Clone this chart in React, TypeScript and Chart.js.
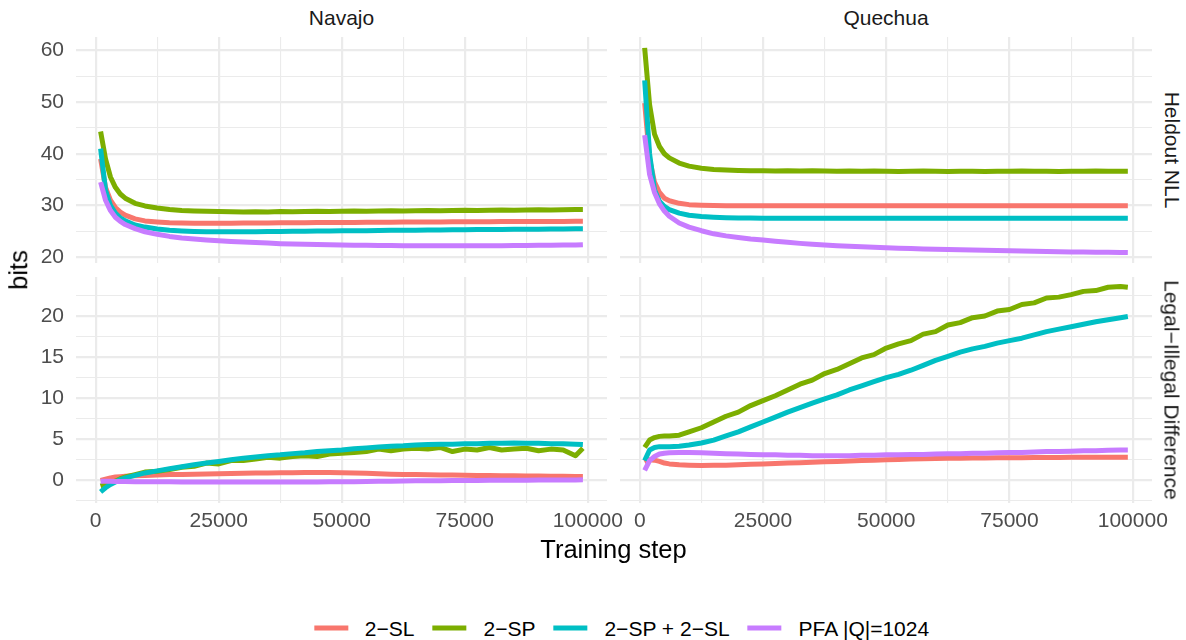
import React, { useEffect, useRef } from "react";
import { Chart, registerables } from "chart.js";

Chart.register(...registerables);

// ---------------- data ----------------
const STEPS = [
  1000, 2000, 3000, 4000, 5000, 6000, 8000, 10000,
  12500, 15000, 17500, 20000, 22500, 25000, 27500, 30000, 32500, 35000,
  37500, 40000, 42500, 45000, 47500, 50000, 52500, 55000, 57500, 60000,
  62500, 65000, 67500, 70000, 72500, 75000, 77500, 80000, 82500, 85000,
  87500, 90000, 92500, 95000, 97500, 99000,
];

const SERIES_NAMES = ["2\u2212SL", "2\u2212SP", "2\u2212SP + 2\u2212SL", "PFA |Q|=1024"];
const COLORS = ["#F8766D", "#7CAE00", "#00BFC4", "#C77CFF"];

const LANGUAGES = ["Navajo", "Quechua"];
const METRICS = ["Heldout NLL", "Legal\u2212Illegal Difference"];

const X_MAJOR = [0, 25000, 50000, 75000, 100000];
const X_MINOR = [12500, 37500, 62500, 87500];
const NLL_Y_MAJOR = [20, 30, 40, 50, 60];
const NLL_Y_MINOR = [25, 35, 45, 55];
const DIFF_Y_MAJOR = [0, 5, 10, 15, 20];
const DIFF_Y_MINOR = [-2.5, 2.5, 7.5, 12.5, 17.5, 22.5];

// Navajo – Heldout NLL
const NAV_NLL_SL = [
  39.0, 33.5, 31.0, 29.6, 28.7, 28.1, 27.4, 27.0,
  26.8, 26.65, 26.6, 26.55, 26.55, 26.55, 26.55, 26.6, 26.6, 26.6,
  26.65, 26.65, 26.65, 26.7, 26.7, 26.7, 26.7, 26.75, 26.75, 26.75,
  26.8, 26.8, 26.8, 26.8, 26.85, 26.85, 26.85, 26.85, 26.9, 26.9,
  26.9, 26.9, 26.9, 26.9, 26.95, 26.95,
];
const NAV_NLL_SP = [
  44.3, 39.0, 35.5, 33.5, 32.2, 31.4, 30.4, 29.9,
  29.5, 29.2, 29.0, 28.9, 28.85, 28.8, 28.75, 28.7, 28.75, 28.7,
  28.8, 28.75, 28.8, 28.85, 28.8, 28.85, 28.9, 28.85, 28.9, 28.95,
  28.9, 28.95, 29.0, 28.95, 29.0, 29.05, 29.0, 29.05, 29.1, 29.05,
  29.1, 29.15, 29.1, 29.15, 29.2, 29.2,
];
const NAV_NLL_SPSL = [
  41.0, 33.0, 30.0, 28.5, 27.6, 27.0, 26.2, 25.8,
  25.45, 25.2, 25.05, 24.95, 24.9, 24.9, 24.9, 24.9, 24.9, 24.95,
  24.95, 25.0, 25.0, 25.05, 25.05, 25.1, 25.1, 25.1, 25.15, 25.2,
  25.2, 25.2, 25.25, 25.25, 25.3, 25.3, 25.35, 25.35, 25.35, 25.4,
  25.4, 25.4, 25.45, 25.45, 25.5, 25.5,
];
const NAV_NLL_PFA = [
  34.5, 31.0, 29.0, 27.7, 26.9, 26.3, 25.5, 24.9,
  24.4, 24.0, 23.7, 23.5, 23.3, 23.15, 23.0, 22.9, 22.8, 22.7,
  22.6, 22.55, 22.5, 22.45, 22.4, 22.35, 22.3, 22.3, 22.25, 22.25,
  22.2, 22.2, 22.2, 22.2, 22.2, 22.2, 22.2, 22.2, 22.2, 22.25,
  22.25, 22.3, 22.3, 22.35, 22.35, 22.4,
];

// Quechua – Heldout NLL
const QUE_NLL_SL = [
  49.8, 39.0, 34.5, 32.5, 31.4, 30.9, 30.4, 30.15,
  30.05, 30.0, 29.95, 29.95, 29.95, 29.95, 29.95, 29.95, 29.95, 29.95,
  29.95, 29.95, 29.95, 29.95, 29.95, 29.95, 29.95, 29.95, 29.95, 29.95,
  29.95, 29.95, 29.95, 29.95, 29.95, 29.95, 29.95, 29.95, 29.95, 29.95,
  29.95, 29.95, 29.95, 29.95, 29.95, 29.95,
];
const QUE_NLL_SP = [
  60.5, 49.5, 43.8, 41.4, 40.0, 39.2, 38.2, 37.6,
  37.2, 36.95, 36.85, 36.75, 36.7, 36.7, 36.65, 36.7, 36.65, 36.7,
  36.65, 36.6, 36.65, 36.6, 36.65, 36.6, 36.55, 36.6, 36.65, 36.6,
  36.55, 36.6, 36.6, 36.55, 36.6, 36.6, 36.65, 36.6, 36.6, 36.55,
  36.6, 36.6, 36.65, 36.6, 36.6, 36.6,
];
const QUE_NLL_SPSL = [
  54.2, 40.0, 33.0, 30.8, 29.8, 29.2, 28.5, 28.1,
  27.85, 27.7, 27.6, 27.55, 27.55, 27.5, 27.5, 27.5, 27.5, 27.5,
  27.5, 27.5, 27.5, 27.5, 27.5, 27.5, 27.5, 27.5, 27.5, 27.5,
  27.5, 27.5, 27.5, 27.5, 27.5, 27.5, 27.5, 27.5, 27.5, 27.5,
  27.5, 27.5, 27.5, 27.5, 27.5, 27.5,
];
const QUE_NLL_PFA = [
  43.6, 36.0, 32.5, 30.3, 28.9, 27.9, 26.6, 25.8,
  25.1, 24.5, 24.1, 23.8, 23.5, 23.3, 23.05, 22.85, 22.65, 22.5,
  22.35, 22.2, 22.1, 22.0, 21.9, 21.8, 21.72, 21.65, 21.58, 21.5,
  21.45, 21.4, 21.35, 21.3, 21.25, 21.2, 21.16, 21.12, 21.08, 21.04,
  21.0, 20.97, 20.94, 20.91, 20.88, 20.86,
];

// Navajo – Legal–Illegal Difference
const NAV_DIFF_SL = [
  0.0, 0.15, 0.3, 0.4, 0.45, 0.5, 0.55, 0.6,
  0.65, 0.7, 0.72, 0.75, 0.78, 0.8, 0.82, 0.85, 0.88, 0.9,
  0.92, 0.93, 0.94, 0.95, 0.95, 0.93, 0.9, 0.85, 0.8, 0.75,
  0.72, 0.7, 0.68, 0.66, 0.64, 0.62, 0.6, 0.58, 0.56, 0.55,
  0.54, 0.52, 0.5, 0.5, 0.48, 0.47,
];
const NAV_DIFF_SP = [
  -0.7, -0.5, -0.3, -0.1, 0.2, 0.4, 0.7, 1.0,
  1.1, 1.3, 1.6, 1.7, 2.1, 2.0, 2.4, 2.4, 2.6, 2.8,
  2.7, 2.9, 3.0, 2.9, 3.2, 3.3, 3.4, 3.5, 3.8, 3.6,
  3.8, 3.9, 3.8, 4.0, 3.5, 3.8, 3.7, 4.0, 3.7, 3.8,
  3.9, 3.6, 3.8, 3.7, 3.0, 3.9,
];
const NAV_DIFF_SPSL = [
  -1.4, -0.9, -0.5, -0.2, 0.1, 0.3, 0.6, 0.9,
  1.15, 1.4, 1.65, 1.9, 2.1, 2.3, 2.5, 2.7, 2.85, 3.0,
  3.1, 3.25, 3.35, 3.5, 3.6, 3.7, 3.85, 3.95, 4.05, 4.15,
  4.2, 4.3, 4.35, 4.4, 4.4, 4.45, 4.45, 4.5, 4.5, 4.55,
  4.5, 4.5, 4.45, 4.45, 4.4, 4.35,
];
const NAV_DIFF_PFA = [
  -0.1, -0.1, -0.12, -0.14, -0.15, -0.15, -0.16, -0.17,
  -0.18, -0.18, -0.19, -0.2, -0.2, -0.2, -0.2, -0.2, -0.2, -0.2,
  -0.2, -0.2, -0.19, -0.19, -0.18, -0.17, -0.16, -0.14, -0.12, -0.1,
  -0.08, -0.06, -0.05, -0.04, -0.03, -0.02, -0.01, 0.0, 0.0, 0.01,
  0.02, 0.03, 0.04, 0.05, 0.05, 0.06,
];

// Quechua – Legal–Illegal Difference
const QUE_DIFF_SL = [
  2.2, 2.5, 2.45, 2.3, 2.1, 2.0, 1.9, 1.85,
  1.8, 1.82, 1.85, 1.9, 1.95, 2.0, 2.05, 2.1, 2.15, 2.2,
  2.25, 2.3, 2.35, 2.4, 2.45, 2.5, 2.55, 2.6, 2.62, 2.65,
  2.68, 2.7, 2.72, 2.73, 2.74, 2.75, 2.76, 2.77, 2.78, 2.79,
  2.8, 2.8, 2.8, 2.8, 2.8, 2.8,
];
const QUE_DIFF_SP = [
  4.0, 4.9, 5.2, 5.35, 5.4, 5.4, 5.5, 5.9,
  6.4, 7.1, 7.8, 8.3, 9.1, 9.7, 10.3, 11.0, 11.7, 12.2,
  13.0, 13.5, 14.2, 14.9, 15.3, 16.1, 16.6, 17.0, 17.8, 18.1,
  18.9, 19.2, 19.8, 20.0, 20.6, 20.8, 21.4, 21.6, 22.2, 22.3,
  22.6, 23.0, 23.1, 23.5, 23.6, 23.5,
];
const QUE_DIFF_SPSL = [
  2.4, 3.7, 4.0, 4.1, 4.1, 4.1, 4.15, 4.3,
  4.55, 4.9, 5.4, 5.9, 6.5, 7.1, 7.7, 8.3, 8.85, 9.4,
  9.9, 10.4, 11.0, 11.5, 12.0, 12.5, 12.9, 13.4, 14.0, 14.6,
  15.1, 15.6, 16.0, 16.3, 16.7, 17.0, 17.3, 17.7, 18.1, 18.4,
  18.7, 19.0, 19.3, 19.55, 19.8, 19.95,
];
const QUE_DIFF_PFA = [
  1.2, 2.4, 2.9, 3.2, 3.3, 3.35, 3.4, 3.4,
  3.35, 3.3, 3.25, 3.2, 3.15, 3.1, 3.1, 3.05, 3.05, 3.0,
  3.0, 3.0, 3.0, 3.05, 3.05, 3.1, 3.1, 3.15, 3.15, 3.2,
  3.25, 3.25, 3.3, 3.3, 3.35, 3.4, 3.4, 3.45, 3.5, 3.5,
  3.55, 3.6, 3.6, 3.65, 3.7, 3.7,
];

// ---------------- styling ----------------
const FONT = '"Liberation Sans", Arial, Helvetica, sans-serif';
const GRID = "#EBEBEB";
const TICK_COLOR = "#4D4D4D";
const TICK_SIZE = 21;

const X_MIN = -4000;
const X_MAX = 103900;

type PanelCfg = {
  series: number[][];
  left: number;
  top: number;
  width: number;
  height: number;
  padRight: number;
  yAxisW: number;
  xAxisH: number;
  showX: boolean;
  showY: boolean;
  yMin: number;
  yMax: number;
  yMajor: number[];
  yMinor: number[];
};

const PANELS: PanelCfg[] = [
  {
    series: [NAV_NLL_SL, NAV_NLL_SP, NAV_NLL_SPSL, NAV_NLL_PFA],
    left: 0, top: 37, width: 620, height: 226, padRight: 13, yAxisW: 76, xAxisH: 0,
    showX: false, showY: true, yMin: 18.85, yMax: 62.6, yMajor: NLL_Y_MAJOR, yMinor: NLL_Y_MINOR,
  },
  {
    series: [QUE_NLL_SL, QUE_NLL_SP, QUE_NLL_SPSL, QUE_NLL_PFA],
    left: 620, top: 37, width: 532, height: 226, padRight: 0, yAxisW: 0, xAxisH: 0,
    showX: false, showY: false, yMin: 18.85, yMax: 62.6, yMajor: NLL_Y_MAJOR, yMinor: NLL_Y_MINOR,
  },
  {
    series: [NAV_DIFF_SL, NAV_DIFF_SP, NAV_DIFF_SPSL, NAV_DIFF_PFA],
    left: 0, top: 277, width: 645, height: 271, padRight: 38, yAxisW: 76, xAxisH: 45,
    showX: true, showY: true, yMin: -2.76, yMax: 24.75, yMajor: DIFF_Y_MAJOR, yMinor: DIFF_Y_MINOR,
  },
  {
    series: [QUE_DIFF_SL, QUE_DIFF_SP, QUE_DIFF_SPSL, QUE_DIFF_PFA],
    left: 600, top: 277, width: 586, height: 271, padRight: 34, yAxisW: 20, xAxisH: 45,
    showX: true, showY: false, yMin: -2.76, yMax: 24.75, yMajor: DIFF_Y_MAJOR, yMinor: DIFF_Y_MINOR,
  },
];

function Panel({ cfg }: { cfg: PanelCfg }) {
  const ref = useRef<HTMLCanvasElement>(null);
  useEffect(() => {
    const canvas = ref.current;
    if (!canvas) return;
    const xTicks = [...X_MAJOR, ...X_MINOR].sort((a, b) => a - b);
    const yTicks = [...cfg.yMajor, ...cfg.yMinor].sort((a, b) => a - b);
    const chart = new Chart(canvas, {
      type: "line",
      data: {
        datasets: cfg.series.map((vals, i) => ({
          label: SERIES_NAMES[i],
          data: STEPS.map((s, j) => ({ x: s, y: vals[j] })),
          borderColor: COLORS[i],
          backgroundColor: COLORS[i],
          borderWidth: 5,
          pointRadius: 0,
          tension: 0,
          fill: false,
          order: 4 - i,
          borderJoinStyle: "round" as const,
        })),
      },
      options: {
        animation: false,
        responsive: false,
        maintainAspectRatio: false,
        devicePixelRatio: 1,
        events: [],
        layout: { padding: { left: 0, right: cfg.padRight, top: 0, bottom: 0 } },
        plugins: { legend: { display: false }, tooltip: { enabled: false }, title: { display: false } },
        scales: {
          x: {
            type: "linear",
            min: X_MIN,
            max: X_MAX,
            afterBuildTicks: (s: any) => {
              s.ticks = xTicks.map((v) => ({ value: v }));
            },
            afterFit: (s: any) => {
              s.height = cfg.xAxisH;
              s.paddingLeft = 0;
              s.paddingRight = 0;
              s.paddingTop = 0;
              s.paddingBottom = 0;
            },
            grid: {
              color: GRID,
              lineWidth: (c: any) => (c.tick && X_MAJOR.includes(c.tick.value) ? 2.2 : 1.1),
              drawTicks: false,
            },
            border: { display: false },
            ticks: {
              display: cfg.showX,
              padding: 6,
              color: TICK_COLOR,
              font: { family: FONT, size: TICK_SIZE },
              maxRotation: 0,
              minRotation: 0,
              autoSkip: false,
              callback: (v: any) => (X_MAJOR.includes(Number(v)) ? String(v) : ""),
            },
          },
          y: {
            type: "linear",
            min: cfg.yMin,
            max: cfg.yMax,
            afterBuildTicks: (s: any) => {
              s.ticks = yTicks.map((v) => ({ value: v }));
            },
            afterFit: (s: any) => {
              s.width = cfg.yAxisW;
              s.paddingLeft = 0;
              s.paddingRight = 0;
              s.paddingTop = 0;
              s.paddingBottom = 0;
            },
            grid: {
              color: GRID,
              lineWidth: (c: any) => (c.tick && cfg.yMajor.includes(c.tick.value) ? 2.2 : 1.1),
              drawTicks: false,
            },
            border: { display: false },
            ticks: {
              display: cfg.showY,
              padding: 12,
              color: TICK_COLOR,
              font: { family: FONT, size: TICK_SIZE },
              autoSkip: false,
              callback: (v: any) => (cfg.yMajor.includes(Number(v)) ? String(v) : ""),
            },
          },
        },
      },
    } as any);
    return () => chart.destroy();
  }, [cfg]);
  return (
    <canvas
      ref={ref}
      width={cfg.width}
      height={cfg.height}
      style={{ position: "absolute", left: cfg.left, top: cfg.top, width: cfg.width, height: cfg.height }}
    />
  );
}

function Label({
  text, x, y, size, color, rotate = 0,
}: { text: string; x: number; y: number; size: number; color: string; rotate?: number }) {
  return (
    <div
      style={{
        position: "absolute",
        left: x,
        top: y,
        transform: `translate(-50%, -50%) rotate(${rotate}deg)`,
        fontFamily: FONT,
        fontSize: size,
        lineHeight: 1,
        color,
        whiteSpace: "nowrap",
      }}
    >
      {text}
    </div>
  );
}

export default function App() {
  return (
    <div
      style={{
        position: "absolute",
        left: 0,
        top: 0,
        width: 1186,
        height: 640,
        overflow: "hidden",
        background: "#FFFFFF",
      }}
    >
      {PANELS.map((p, i) => (
        <Panel key={i} cfg={p} />
      ))}
      <Label text={LANGUAGES[0]} x={341.5} y={17} size={TICK_SIZE} color="#1A1A1A" />
      <Label text={LANGUAGES[1]} x={886} y={17} size={TICK_SIZE} color="#1A1A1A" />
      <Label text={METRICS[0]} x={1172} y={150} size={TICK_SIZE} color="#1A1A1A" rotate={90} />
      <Label text={METRICS[1]} x={1172} y={390} size={TICK_SIZE} color="#1A1A1A" rotate={90} />
      <Label text="bits" x={19} y={270} size={25.5} color="#000000" rotate={-90} />
      <Label text="Training step" x={613.5} y={550} size={25.5} color="#000000" />
      <div
        style={{
          position: "absolute",
          left: 621.5,
          top: 628,
          transform: "translate(-50%, -50%)",
          display: "flex",
          alignItems: "center",
          fontFamily: FONT,
          fontSize: TICK_SIZE,
          lineHeight: 1,
          color: "#000000",
          whiteSpace: "nowrap",
        }}
      >
        {SERIES_NAMES.map((name, i) => (
          <div key={i} style={{ display: "flex", alignItems: "center", marginLeft: i === 0 ? 0 : 18 }}>
            <div style={{ width: 34, height: 5, background: COLORS[i], marginRight: 17 }} />
            <span>{name}</span>
          </div>
        ))}
      </div>
    </div>
  );
}
